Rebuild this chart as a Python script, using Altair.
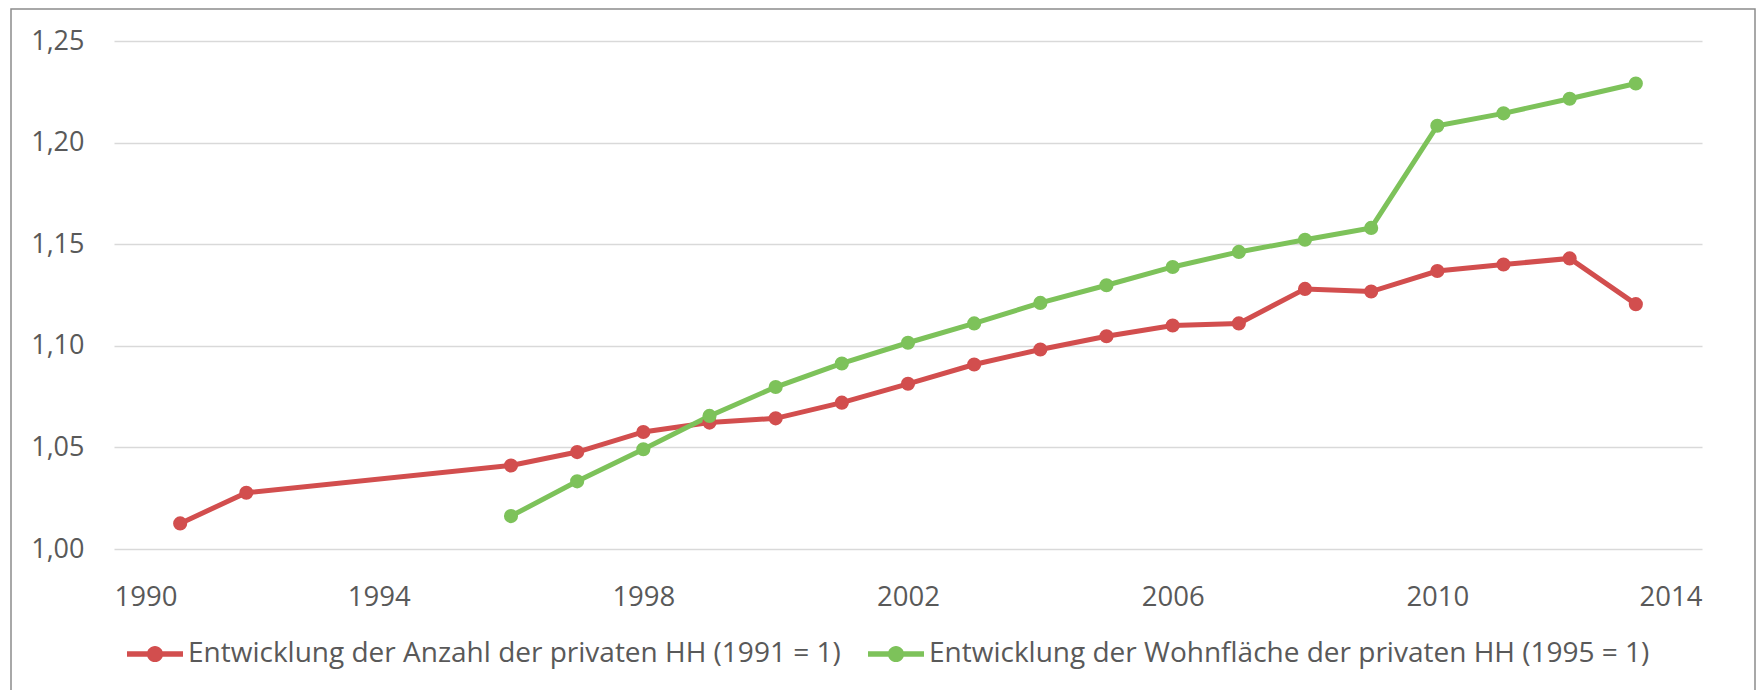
import altair as alt
import pandas as pd

years_hh = [1991, 1992, 1996, 1997, 1998, 1999, 2000, 2001, 2002, 2003,
            2004, 2005, 2006, 2007, 2008, 2009, 2010, 2011, 2012, 2013]
values_hh = [1.0126, 1.0277, 1.0411, 1.0477, 1.0576, 1.0622, 1.0643, 1.0720,
             1.0813, 1.0908, 1.0982, 1.1047, 1.1100, 1.1110, 1.1280, 1.1267,
             1.1368, 1.1400, 1.1430, 1.1205]

years_wf = [1996, 1997, 1998, 1999, 2000, 2001, 2002, 2003, 2004, 2005,
            2006, 2007, 2008, 2009, 2010, 2011, 2012, 2013]
values_wf = [1.0162, 1.0333, 1.0491, 1.0655, 1.0797, 1.0913, 1.1015, 1.1110,
             1.1211, 1.1298, 1.1388, 1.1462, 1.1522, 1.1580, 1.2083, 1.2144,
             1.2216, 1.2291]

series_names = ["Entwicklung der Anzahl der privaten HH (1991 = 1)",
                "Entwicklung der Wohnfläche der privaten HH (1995 = 1)"]
series_colors = ["#D24E4E", "#7DC25A"]

x_ticks = [1990, 1994, 1998, 2002, 2006, 2010, 2014]
y_ticks = [1.00, 1.05, 1.10, 1.15, 1.20, 1.25]

df = pd.concat([
    pd.DataFrame({"Jahr": years_hh, "Wert": values_hh, "Reihe": series_names[0]}),
    pd.DataFrame({"Jahr": years_wf, "Wert": values_wf, "Reihe": series_names[1]}),
], ignore_index=True)

FONT = "Open Sans"
TXT = "#595959"

legend_symbol = ("M-1,-0.1 L1,-0.1 L1,0.1 L-1,0.1 Z "
                 "M-0.29,0 A0.29,0.29 0 1,1 0.29,0 A0.29,0.29 0 1,1 -0.29,0 Z")

x_enc = alt.X("Jahr:Q",
              scale=alt.Scale(domain=[1990, 2014], nice=False, zero=False),
              axis=alt.Axis(values=x_ticks, format="d", title=None, grid=False,
                            domain=False, ticks=False, labelPadding=34,
                            labelFontSize=27.5, labelFont=FONT, labelColor=TXT))
y_enc = alt.Y("Wert:Q",
              scale=alt.Scale(domain=[1.0, 1.25], nice=False, zero=False),
              axis=alt.Axis(values=y_ticks, title=None, domain=False, ticks=False,
                            labelExpr="replace(format(datum.value, '.2f'), '.', ',')",
                            labelPadding=30, labelFontSize=27, labelFont=FONT,
                            labelColor=TXT, gridColor="#D9D9D9", gridWidth=1.5))
color_enc = alt.Color("Reihe:N",
                      scale=alt.Scale(domain=series_names, range=series_colors),
                      legend=alt.Legend(title=None, orient="none", direction="horizontal",
                                        legendX=13, legendY=585,
                                        symbolType=legend_symbol, symbolSize=3136,
                                        symbolStrokeWidth=0, labelFontSize=28,
                                        labelFont=FONT, labelColor=TXT, labelLimit=0,
                                        labelOffset=5, columnPadding=27,
                                        symbolOpacity=1))

base = alt.Chart(df)
lines = base.mark_line(strokeWidth=5).encode(x=x_enc, y=y_enc, color=color_enc)
points = base.mark_point(filled=True, size=200, opacity=1).encode(
    x="Jahr:Q", y="Wert:Q", color=alt.Color("Reihe:N"))

frame = alt.Chart(pd.DataFrame({"a": [0]})).mark_rect(
    fill=None, stroke="#8C8C8C", strokeWidth=1.5, clip=False
).encode(x=alt.value(-103), x2=alt.value(1641), y=alt.value(-32), y2=alt.value(700))

chart = alt.layer(frame, lines, points).properties(
    width=1588, height=508,
    background="white",
    autosize=alt.AutoSizeParams(type="none"),
    padding={"left": 106, "top": 33, "right": 54, "bottom": 141},
).configure_view(strokeWidth=0, stroke="transparent")

chart.save("out.html", embed_options={"renderer": "svg", "actions": False})
